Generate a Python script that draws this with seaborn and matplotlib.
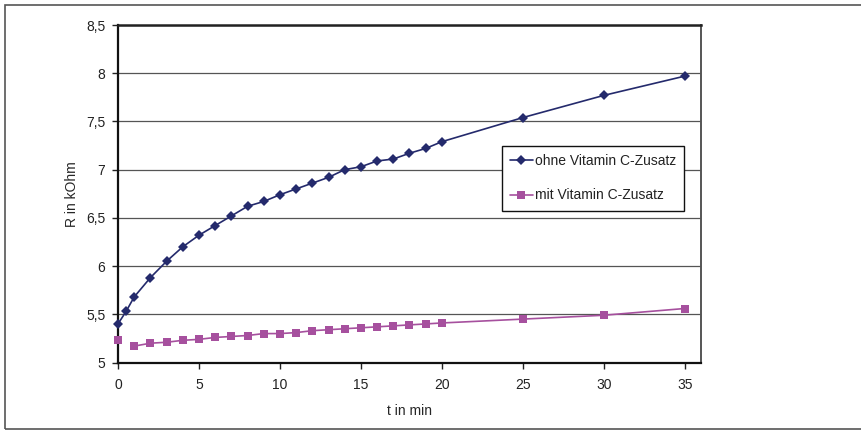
import numpy as np
import pandas as pd
import matplotlib
matplotlib.use("Agg")
import matplotlib.pyplot as plt
import seaborn as sns
from matplotlib.patches import Rectangle

# ---- data ----
t_min = [0, 0.5, 1, 2, 3, 4, 5, 6, 7, 8, 9, 10, 11, 12, 13, 14, 15, 16, 17, 18, 19, 20, 25, 30, 35]
ohne = [5.40, 5.53, 5.68, 5.88, 6.05, 6.20, 6.32, 6.42, 6.52, 6.62, 6.67, 6.74, 6.80, 6.86, 6.92,
        7.00, 7.03, 7.09, 7.11, 7.17, 7.22, 7.29, 7.54, 7.77, 7.97]
mit = [5.23, np.nan, 5.17, 5.20, 5.21, 5.23, 5.24, 5.26, 5.27, 5.28, 5.30, 5.30, 5.31, 5.33, 5.34,
       5.35, 5.36, 5.37, 5.38, 5.39, 5.40, 5.41, 5.45, 5.49, 5.56]
series_names = ["ohne Vitamin C-Zusatz", "mit Vitamin C-Zusatz"]
x_ticks = [0, 5, 10, 15, 20, 25, 30, 35]
y_ticks = [5, 5.5, 6, 6.5, 7, 7.5, 8, 8.5]
y_tick_labels = ["5", "5,5", "6", "6,5", "7", "7,5", "8", "8,5"]
x_label = "t in min"
y_label = "R in kOhm"

colors = {series_names[0]: "#242a6c", series_names[1]: "#a6509e"}
markers = {series_names[0]: "D", series_names[1]: "s"}

# ---- long-form table (NaN splits a line into segments) ----
frames = []
for name, vals in zip(series_names, [ohne, mit]):
    v = np.array(vals, dtype=float)
    seg = np.cumsum(np.isnan(v))
    df = pd.DataFrame({"t": t_min, "R": v, "serie": name, "seg": seg})
    frames.append(df.dropna())
data = pd.concat(frames, ignore_index=True)

sns.set_style("white")
plt.rcParams["font.family"] = ["Liberation Sans", "DejaVu Sans"]
plt.rcParams["font.size"] = 10

fig = plt.figure(figsize=(8.62, 4.30), dpi=100)
ax = fig.add_axes([118 / 862, 1 - 362.5 / 430, (701 - 118) / 862, (362.5 - 25) / 430])

sns.lineplot(data=data, x="t", y="R", hue="serie", style="serie", units="seg",
             estimator=None, hue_order=series_names, style_order=series_names,
             palette=colors, markers=markers, dashes=False, markersize=5.5,
             markeredgewidth=0, linewidth=1.2, sort=True, ax=ax, legend=True)
for ln in ax.lines:
    ln.set_clip_on(False)
    ln.set_zorder(3)

ax.set_xlim(0, 36)
ax.set_ylim(5, 8.5)
ax.set_xticks(x_ticks)
ax.set_yticks(y_ticks)
ax.set_yticklabels(y_tick_labels)
ax.set_xlabel(x_label, fontsize=10, labelpad=9)
ax.set_ylabel(y_label, fontsize=10, labelpad=5)
ax.tick_params(axis="both", which="both", direction="out", length=4, width=1,
               color="#222222", labelsize=10, labelcolor="#222222",
               bottom=True, left=True)
ax.tick_params(axis="x", pad=7)
ax.tick_params(axis="y", pad=5)
ax.yaxis.grid(True, color="#555555", linewidth=0.9)
ax.xaxis.grid(False)
ax.set_axisbelow(True)
for side in ["left", "bottom"]:
    ax.spines[side].set_color("#111111")
    ax.spines[side].set_linewidth(1.6)
ax.spines["top"].set_color("#222222")
ax.spines["top"].set_linewidth(1.8)
ax.spines["right"].set_color("#555555")
ax.spines["right"].set_linewidth(1.4)

handles, labels = ax.get_legend_handles_labels()
pairs = [(h, l) for h, l in zip(handles, labels) if l in series_names]
leg = ax.legend([p[0] for p in pairs], [p[1] for p in pairs],
                loc="upper left", bbox_to_anchor=(502 / 862, 1 - 146 / 430),
                bbox_transform=fig.transFigure, frameon=True, fancybox=False,
                edgecolor="#111111", framealpha=1, fontsize=10,
                handlelength=1.6, handletextpad=0.15, labelspacing=1.45,
                borderpad=0.6, borderaxespad=0)
leg.get_frame().set_linewidth(1.0)
for txt in leg.get_texts():
    txt.set_color("#222222")

# outer chart frame
fig.patches.append(Rectangle((5 / 862, 1 / 430), 1.2, 424 / 430, transform=fig.transFigure,
                             fill=False, edgecolor="#555555", linewidth=1.2, zorder=0))

fig.savefig("out.png", dpi=100)
